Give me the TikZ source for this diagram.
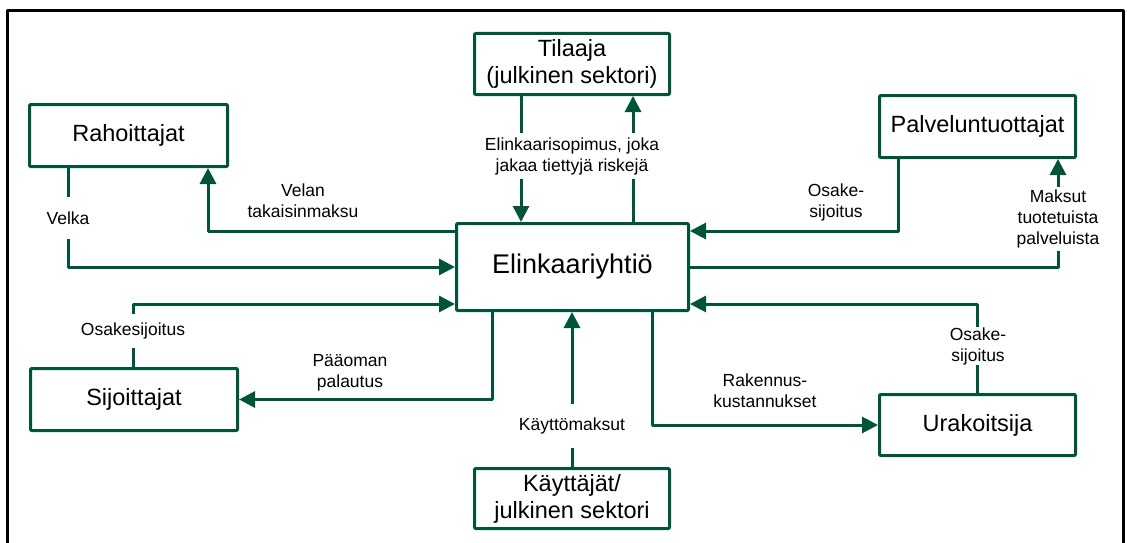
\documentclass[tikz,border=0pt]{standalone}
\usepackage{fontspec}
\setmainfont{Liberation Sans}
\usetikzlibrary{arrows.meta}
\definecolor{elgreen}{RGB}{0,84,58}
\tikzset{
  party/.style={draw=elgreen,line width=3pt,rounded corners=1pt,fill=white,
    align=center,inner sep=0pt,font=\fontsize{23.5}{27}\selectfont},
  flow/.style={draw=elgreen,line width=3pt},
  lbl/.style={align=center,inner sep=0pt,font=\fontsize{17.5}{21}\selectfont},
  lblcut/.style={lbl,fill=white,inner xsep=2pt}
}
\begin{document}
\begin{tikzpicture}[line cap=butt,line join=round,>={Triangle[length=16pt,width=16pt]},x=1pt,y=-1pt]
\useasboundingbox (0,0) rectangle (1127,543);
%kehys
\draw[line width=3pt] (7,546) -- (7,11) -- (1123,11) -- (1123,546);

%osapuolet
\node[party,minimum width=198pt,minimum height=62pt] (rah) at (128.5,135.5) {Rahoittajat};
\node[party,minimum width=195pt,minimum height=61pt] (til) at (572,64) {Tilaaja\\(julkinen sektori)};
\node[party,minimum width=196pt,minimum height=62pt] (pal) at (977.5,126.5) {Palveluntuottajat};
\node[party,minimum width=232pt,minimum height=87pt,font=\fontsize{27}{32}\selectfont] (eli) at (572.5,267) {Elinkaariyhtiö};
\node[party,minimum width=207pt,minimum height=62pt] (sij) at (134,399.5) {Sijoittajat};
\node[party,minimum width=195pt,minimum height=60pt] (kay) at (572,498.5) {Käyttäjät/\\julkinen sektori};
\node[party,minimum width=196pt,minimum height=61pt] (ura) at (977.5,425) {Urakoitsija};

%rahoittajat
\draw[flow,->] ([xshift=-60.5pt]rah.south) |- (eli.west);
\draw[flow,->] ([yshift=36pt]eli.west) -| ([xshift=79.5pt]rah.south);
\node[lblcut,inner ysep=15pt] (velka) at (68,218) {Velka};
\node[lbl] (velan) at (303,201) {Velan\\takaisinmaksu};

%tilaaja
\draw[flow,->] ([xshift=-51pt]til.south) -- ([xshift=-51pt]til.south |- eli.north);
\draw[flow,->] ([xshift=61pt]til.south |- eli.north) -- ([xshift=61pt]til.south);
\node[lblcut,inner ysep=4pt] (sopimus) at (572,156) {Elinkaarisopimus, joka\\jakaa tiettyjä riskejä};

%palveluntuottajat
\draw[flow,->] ([xshift=-79.5pt]pal.south) |- ([yshift=36pt]eli.east);
\draw[flow,->] (eli.east) -| ([xshift=80.5pt]pal.south);
\node[lbl] (palosake) at (836,202) {Osake-\\sijoitus};
\node[lblcut,inner ysep=3pt] (maksut) at (1058,219) {Maksut\\tuotetuista\\palveluista};

%sijoittajat
\draw[flow,->] ([xshift=-1pt]sij.north) |- ([yshift=-37pt]eli.west);
\draw[flow,->] ([xshift=-80.5pt]eli.south) |- (sij.east);
\node[lblcut,inner ysep=9pt] (sijosake) at (133,331) {Osakesijoitus};
\node[lbl] (paaoma) at (350,373) {Pääoman\\palautus};

%kayttajat
\draw[flow,->] (kay.north) -- (kay.north |- eli.south);
\node[lblcut,inner ysep=14pt] (kmaksut) at (572,426) {Käyttömaksut};

%urakoitsija
\draw[flow,->] (ura.north) |- ([yshift=-37pt]eli.east);
\draw[flow,->] ([xshift=79.5pt]eli.south) |- (ura.west);
\node[lblcut,inner ysep=0pt] (uraosake) at (978,346) {Osake-\\sijoitus};
\node[lbl] (rakennus) at (765,391) {Rakennus-\\kustannukset};
\end{tikzpicture}
\end{document}
